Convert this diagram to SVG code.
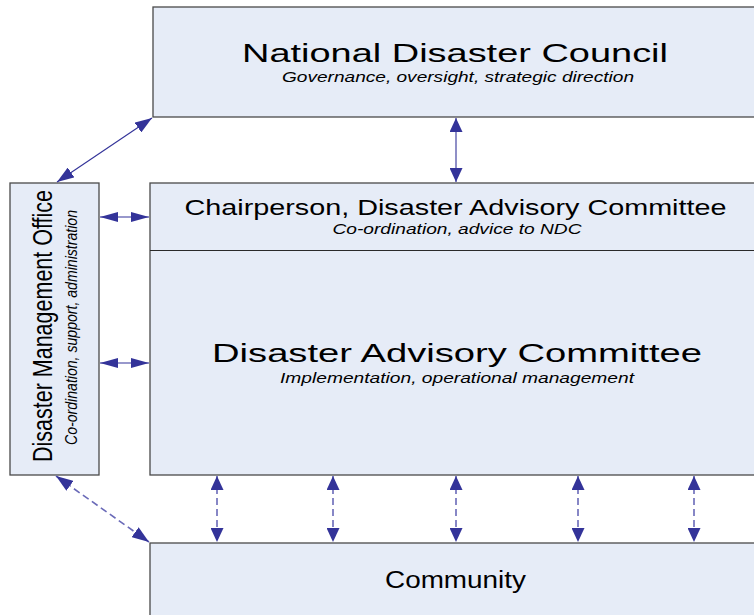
<svg xmlns="http://www.w3.org/2000/svg" width="754" height="615" viewBox="0 0 754 615">
  <style>
    .box { fill: #e6ecf7; stroke: #4a4a4a; stroke-width: 1.3; }
    .divider { stroke: #2a2a2a; stroke-width: 1.2; }
    .title { font-family: "Liberation Sans", Arial, sans-serif; fill: #000; }
    .sub { font-family: "Liberation Sans", Arial, sans-serif; font-style: italic; fill: #000; }
    .link { stroke: #333399; stroke-width: 1.1; fill: none; }
    .dash { stroke: #6a6ab8; stroke-width: 1.6; stroke-dasharray: 7 4; fill: none; }
    .head { fill: #333399; }
  </style>
  <defs>
    <marker id="headV" markerUnits="userSpaceOnUse" viewBox="0 0 14 13" refX="14" refY="6.5" markerWidth="14" markerHeight="13" orient="auto-start-reverse">
      <path class="head" d="M0,0 L14,6.5 L0,13 Z"/>
    </marker>
    <marker id="headH" markerUnits="userSpaceOnUse" viewBox="0 0 18 10" refX="18" refY="5" markerWidth="18" markerHeight="10" orient="auto-start-reverse">
      <path class="head" d="M0,0 L18,5 L0,10 Z"/>
    </marker>
    <marker id="headD" markerUnits="userSpaceOnUse" viewBox="0 0 17 12" refX="17" refY="6" markerWidth="17" markerHeight="12" orient="auto-start-reverse">
      <path class="head" d="M0,0 L17,6 L0,12 Z"/>
    </marker>
  </defs>

  <g id="ndc">
    <rect class="box" x="153" y="7" width="610" height="110"/>
    <text class="title" x="455" y="62" font-size="26.5" text-anchor="middle" textLength="426" lengthAdjust="spacingAndGlyphs">National Disaster Council</text>
    <text class="sub" x="458" y="82" font-size="14" text-anchor="middle" textLength="352" lengthAdjust="spacingAndGlyphs">Governance, oversight, strategic direction</text>
  </g>

  <g id="dac">
    <rect class="box" x="150" y="183" width="613" height="292"/>
    <line class="divider" x1="150" y1="250.5" x2="763" y2="250.5"/>
    <text class="title" x="455.5" y="215" font-size="21.5" text-anchor="middle" textLength="542" lengthAdjust="spacingAndGlyphs">Chairperson, Disaster Advisory Committee</text>
    <text class="sub" x="457" y="234" font-size="14.5" text-anchor="middle" textLength="249" lengthAdjust="spacingAndGlyphs">Co-ordination, advice to NDC</text>
    <text class="title" x="457" y="362" font-size="26.5" text-anchor="middle" textLength="490" lengthAdjust="spacingAndGlyphs">Disaster Advisory Committee</text>
    <text class="sub" x="457" y="383" font-size="14" text-anchor="middle" textLength="354" lengthAdjust="spacingAndGlyphs">Implementation, operational management</text>
  </g>

  <g id="dmo">
    <rect class="box" x="10" y="183" width="89" height="292"/>
    <text class="title" transform="translate(52,326) rotate(-90)" x="0" y="0" font-size="28" text-anchor="middle" textLength="272" lengthAdjust="spacingAndGlyphs">Disaster Management Office</text>
    <text class="sub" transform="translate(77,327.5) rotate(-90)" x="0" y="0" font-size="16" text-anchor="middle" textLength="235" lengthAdjust="spacingAndGlyphs">Co-ordination, support, administration</text>
  </g>

  <g id="community">
    <rect class="box" x="150" y="543" width="613" height="80"/>
    <text class="title" x="455.5" y="588" font-size="23" text-anchor="middle" textLength="141" lengthAdjust="spacingAndGlyphs">Community</text>
  </g>

  <g id="connectors">
    <!-- NDC to chairperson -->
    <line class="link" x1="456" y1="118" x2="456" y2="182" marker-start="url(#headV)" marker-end="url(#headV)"/>
    <!-- NDC to DMO -->
    <line class="link" x1="152" y1="118" x2="57" y2="182" marker-start="url(#headD)" marker-end="url(#headD)"/>
    <!-- DMO to chairperson and committee -->
    <line class="link" x1="100" y1="217" x2="149" y2="217" marker-start="url(#headH)" marker-end="url(#headH)"/>
    <line class="link" x1="100" y1="363" x2="149" y2="363" marker-start="url(#headH)" marker-end="url(#headH)"/>
    <!-- DMO to community -->
    <line class="dash" x1="56" y1="476" x2="149" y2="542" marker-start="url(#headD)" marker-end="url(#headD)"/>
    <!-- committee to community -->
    <line class="dash" x1="217" y1="476" x2="217" y2="542" marker-start="url(#headV)" marker-end="url(#headV)"/>
    <line class="dash" x1="333" y1="476" x2="333" y2="542" marker-start="url(#headV)" marker-end="url(#headV)"/>
    <line class="dash" x1="456" y1="476" x2="456" y2="542" marker-start="url(#headV)" marker-end="url(#headV)"/>
    <line class="dash" x1="578" y1="476" x2="578" y2="542" marker-start="url(#headV)" marker-end="url(#headV)"/>
    <line class="dash" x1="694" y1="476" x2="694" y2="542" marker-start="url(#headV)" marker-end="url(#headV)"/>
  </g>
</svg>
